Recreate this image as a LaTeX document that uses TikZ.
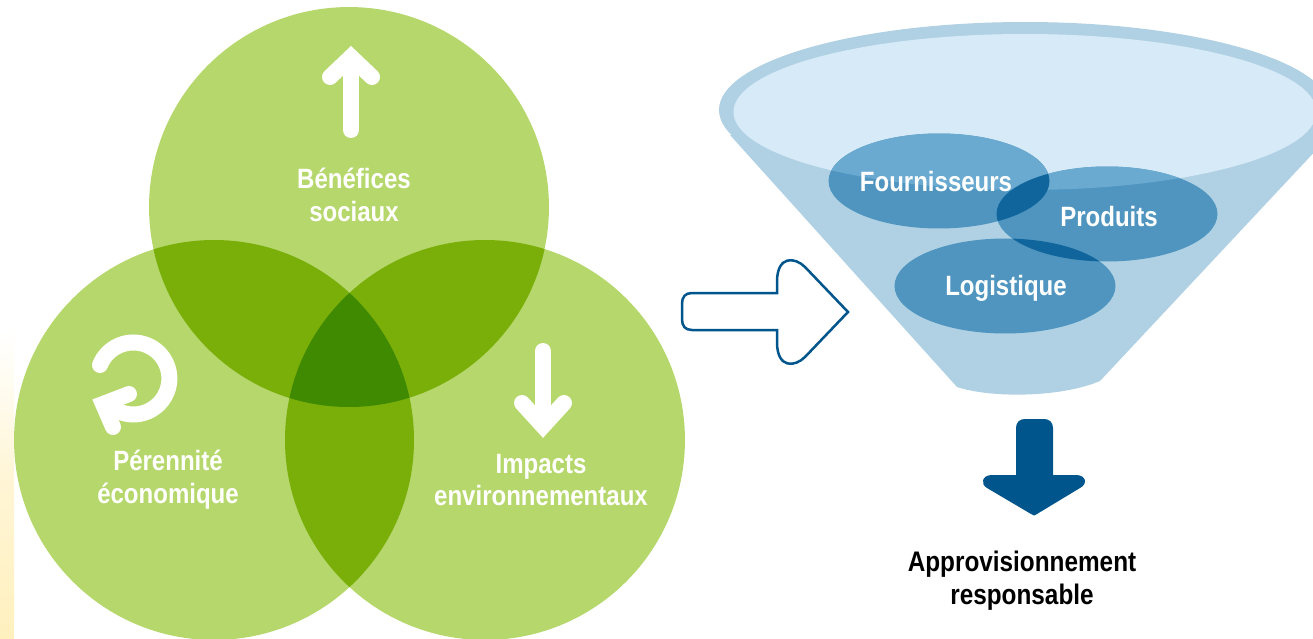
\documentclass[tikz,border=0pt]{standalone}
\usepackage{fontspec}
\setmainfont[FakeStretch=0.86]{Liberation Sans}
\usepackage{tikz}
\usetikzlibrary{shapes.geometric,positioning}

\definecolor{petal}{HTML}{B5D76B}
\definecolor{petaltwo}{HTML}{7AAF0A}
\definecolor{petalthree}{HTML}{3F8A00}
\definecolor{funnelbody}{HTML}{B0D1E3}
\definecolor{funneltop}{HTML}{D7EAF8}
\definecolor{lobe}{HTML}{4F95BF}
\definecolor{lobetop}{HTML}{6AAAD0}
\definecolor{lobetwo}{HTML}{10669C}
\definecolor{navy}{HTML}{00568C}
\definecolor{strip}{HTML}{FFF0BE}

\begin{document}
\begin{tikzpicture}[x=0.02cm,y=-0.02cm]

\tikzstyle{circ}=[circle,fill=petal,inner sep=0cm,minimum size=8cm]
\tikzstyle{lobeshape}=[ellipse,fill=lobe,inner sep=0cm,minimum width=4.42cm,minimum height=1.9cm]
\tikzstyle{label}=[white,font=\fontsize{15.9}{18.7}\selectfont\bfseries,align=center,inner sep=0cm]
\tikzstyle{whitearrow}=[white,line width=0.32cm,line cap=round,miter limit=4]

\clip (0,0) rectangle (1313,639);

% Left strip
\shade[top color=white,bottom color=strip,middle color=strip!65!white] (0,330) rectangle (14,639);

% Three circles
\node[circ] (C_soc) at (349,207) {};
\node[circ] (C_eco) at (214,440) {};
\node[circ] (C_env) at (485,440) {};

% Two by two overlaps
\begin{scope}
\clip (C_soc.center) circle (200);
\fill[petaltwo] (C_eco.center) circle (200);
\fill[petaltwo] (C_env.center) circle (200);
\end{scope}
\begin{scope}
\clip (C_eco.center) circle (200);
\fill[petaltwo] (C_env.center) circle (200);
\end{scope}

% Middle overlap
\begin{scope}
\clip (C_soc.center) circle (200);
\clip (C_eco.center) circle (200);
\fill[petalthree] (C_env.center) circle (200);
\end{scope}

% Circle icons
\draw[whitearrow] (351,130)--(351,62);
\draw[whitearrow] (330,77)--(351,57)--(372,77);

\draw[whitearrow] (543,351)--(543,420);
\draw[whitearrow] (522,403)--(543,426)--(564,403);

\draw[whitearrow] (C_eco.center) ++(-114,-75) arc (-158:125:36);
\draw[whitearrow] (129,394)--(103,404)--(113,427);

% Circle labels
\node[label] (ben) at (354,195) {Bénéfices\\sociaux};
\node[label] (per) at (168,480) {Pérennité\\économique};
\node[label] (imp) at (541,480) {Impacts\\environnementaux};

% Outline arrow
\draw[navy,line width=0.05cm,fill=white] (848,312) -- (805,267)
 .. controls (795,257) and (777,255) .. (777,282) -- (777,293) -- (692,293)
 .. controls (685,293) and (682,297) .. (682,304) -- (682,319)
 .. controls (682,326) and (685,330) .. (692,330) -- (777,330) -- (777,342)
 .. controls (777,369) and (795,367) .. (805,357) -- cycle;

% Funnel
\fill[funnelbody] (1025,110) ellipse (306 and 88);
\fill[funnelbody] (730,135) -- (957,387) .. controls (990,398) and (1060,398) .. (1100,381) -- (1335,130) -- cycle;
\fill[funneltop] (1025,112) ellipse (291.5 and 78);

% Funnel lobes
\node[lobeshape] (L_four) at (939,181) {};
\node[lobeshape] (L_prod) at (1107,214) {};
\node[lobeshape] (L_logi) at (1005,286) {};

\begin{scope}
\clip (1025,112) ellipse (291.5 and 78);
\fill[lobetop] (L_four.center) ellipse (110.5 and 47.5);
\fill[lobetop] (L_prod.center) ellipse (110.5 and 47.5);
\end{scope}
\begin{scope}
\clip (L_four.center) ellipse (110.5 and 47.5);
\fill[lobetwo] (L_prod.center) ellipse (110.5 and 47.5);
\end{scope}
\begin{scope}
\clip (L_logi.center) ellipse (110.5 and 47.5);
\fill[lobetwo] (L_prod.center) ellipse (110.5 and 47.5);
\end{scope}

\node[label] (four) at (936,182) {Fournisseurs};
\node[label] (prod) at (1109,217) {Produits};
\node[label] (logi) at (1006,288) {Logistique};

% Dark arrow
\fill[navy] (1016,475) -- (1016,428) .. controls (1016,422) and (1020,419) .. (1025,419)
 -- (1044,419) .. controls (1049,419) and (1053,422) .. (1053,428) -- (1053,475)
 -- (1076,475) .. controls (1086,475) and (1088,484) .. (1080,488)
 -- (1037,514) .. controls (1035,516) and (1033,516) .. (1031,514)
 -- (987,488) .. controls (980,484) and (982,475) .. (992,475) -- cycle;

\node[label,black,font=\fontsize{16.1}{18.7}\selectfont\bfseries] (appro) at (1022,581) {Approvisionnement\\responsable};

\end{tikzpicture}
\end{document}
